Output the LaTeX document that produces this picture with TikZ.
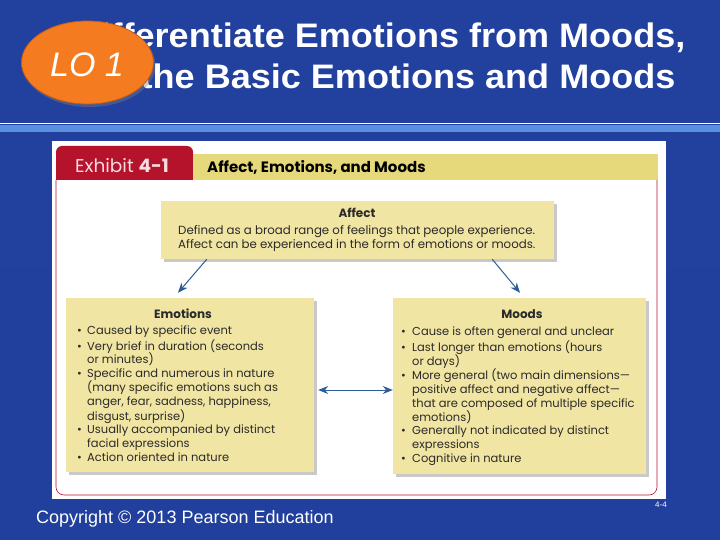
\documentclass[tikz,border=0pt]{standalone}
\usepackage{fontspec}
\setmainfont{Liberation Sans}
\newfontfamily\titlefont{Liberation Sans}[FakeStretch=1.06]
\newfontfamily\exfont{Poppins}
\usetikzlibrary{shadows,arrows.meta,shapes.geometric}
\definecolor{bgtop}{HTML}{22409E}
\definecolor{bgmid}{HTML}{2D52B2}
\definecolor{bgbot}{HTML}{213F9C}
\definecolor{sepblue}{HTML}{5B8FE0}
\definecolor{loorange}{HTML}{F47B20}
\definecolor{loedge}{HTML}{C95A12}
\definecolor{exred}{HTML}{B5122B}
\definecolor{extab}{HTML}{F7DCE0}
\definecolor{hdryellow}{HTML}{E6D97C}
\definecolor{boxyellow}{HTML}{F1E5A4}
\definecolor{arrblue}{HTML}{2D5C96}
\definecolor{extxt}{HTML}{2A2A2A}
\newcommand\bitem[1]{\makebox[10pt][l]{\textbullet}#1}
\newcommand\bcont[1]{\hspace*{10pt}#1}
\newcommand\mitem[1]{\makebox[11pt][l]{\textbullet}#1}
\newcommand\mcont[1]{\hspace*{11pt}#1}
\tikzset{
  titletext/.style={text=white, inner sep=0pt, font=\titlefont\fontsize{34}{40}\selectfont\bfseries},
  infobox/.style={fill=boxyellow, draw=none, inner sep=0pt,
    drop shadow={shadow xshift=3pt, shadow yshift=-3pt, opacity=0.35, fill=black!60}},
  bodytext/.style={text=extxt, inner sep=0pt, align=left,
    font=\exfont\fontsize{11.5}{13.8}\selectfont},
  boxtitle/.style={text=extxt, inner sep=0pt, font=\exfont\fontsize{12}{14}\selectfont\bfseries},
  arr/.style={draw=arrblue, line width=1pt, -{Stealth[length=10pt,width=8pt]}},
  darr/.style={draw=arrblue, line width=1pt, {Stealth[length=10pt,width=8pt]}-{Stealth[length=10pt,width=8pt]}}
}
\begin{document}
\begin{tikzpicture}[x=1pt,y=-1pt]
\useasboundingbox (0,0) rectangle (720,540);
% background
\shade[top color=bgtop, middle color=bgmid, bottom color=bgbot] (0,0) rectangle (720,540);
% title
\node[titletext, anchor=base] (t1) at (380,47.5) {Differentiate Emotions from Moods,};
\node[titletext, anchor=base] (t2) at (371,89) {and the Basic Emotions and Moods};
% LO badge
\node[ellipse, minimum width=132pt, minimum height=83pt, fill=loorange, draw=loedge, line width=0.8pt,
  drop shadow={shadow xshift=2pt, shadow yshift=-3pt, opacity=0.4}] (lo) at (87.5,62.5) {};
\node[text=white, inner sep=0pt, anchor=base, font=\fontsize{34}{34}\selectfont\itshape] (lotxt) at (87,77) {LO 1};
% separator
\draw[white, line width=1pt] (0,124) -- (720,124);
\fill[sepblue] (0,125) rectangle (720,132);
% exhibit
\fill[white] (52,141) rectangle (666,499);
\fill[exred] (56,180) [rounded corners=6pt] -- (56,146) -- (193,146) [sharp corners] -- (193,180) -- cycle;
\fill[hdryellow] (193,154) rectangle (658,180);
\draw[exred, line width=0.6pt, rounded corners=8pt] (56,180) -- (56,495) -- (657,495) -- (657,180);
\node[anchor=base west, inner sep=0pt, text=extab, font=\exfont\fontsize{18.5}{18}\selectfont] (exlbl) at (75,172.5) {Exhibit \textbf{4-1}};
\node[anchor=base west, inner sep=0pt, text=black, font=\exfont\fontsize{15}{16}\selectfont\bfseries] (hdr) at (207,172.5) {Affect, Emotions, and Moods};
% boxes
\node[infobox, minimum width=393pt, minimum height=58pt] (affect) at (357.5,230) {};
\node[infobox, minimum width=248pt, minimum height=174pt] (emo) at (190,385) {};
\node[infobox, minimum width=253pt, minimum height=176pt] (moods) at (519.5,386) {};
% affect text
\node[boxtitle, anchor=base] (afft) at (357,218) {Affect};
\node[bodytext, anchor=north west, font=\exfont\fontsize{11.8}{14.5}\selectfont] (affd) at (178,223.8) {\strut Defined as a broad range of feelings that people experience.\\Affect can be experienced in the form of emotions or moods.};
% emotions text
\node[boxtitle, anchor=base] (emot) at (183,318) {Emotions};
\node[bodytext, anchor=north west] (emod) at (77,324.3) {\strut\bitem{Caused by specific event}\\
\bitem{Very brief in duration (seconds}\\
\bcont{or minutes)}\\
\bitem{Specific and numerous in nature}\\
\bcont{(many specific emotions such as}\\
\bcont{anger, fear, sadness, happiness,}\\
\bcont{disgust, surprise)}\\
\bitem{Usually accompanied by distinct}\\
\bcont{facial expressions}\\
\bitem{Action oriented in nature}};
% moods text
\node[boxtitle, anchor=base] (moot) at (522,318) {Moods};
\node[bodytext, anchor=north west] (mood) at (401,325.3) {\strut\mitem{Cause is often general and unclear}\\
\mitem{Last longer than emotions (hours}\\
\mcont{or days)}\\
\mitem{More general (two main dimensions—}\\
\mcont{positive affect and negative affect—}\\
\mcont{that are composed of multiple specific}\\
\mcont{emotions)}\\
\mitem{Generally not indicated by distinct}\\
\mcont{expressions}\\
\mitem{Cognitive in nature}};
% arrows
\draw[arr] ([xshift=46pt]affect.south west) -- ([xshift=-12pt,yshift=5pt]emo.north);
\draw[arr] ([xshift=-62pt]affect.south east) -- ([xshift=0.5pt,yshift=5pt]moods.north);
\draw[darr] ([xshift=4pt,yshift=-5pt]emo.east) -- ([yshift=-4pt]moods.west);
% footer
\node[anchor=base west, inner sep=0pt, text=white, font=\fontsize{18}{18}\selectfont] (copy) at (36,523) {Copyright © 2013 Pearson Education};
\node[anchor=base, inner sep=0pt, text=white, font=\fontsize{8}{8}\selectfont] (pg) at (661,507) {4-4};
\end{tikzpicture}
\end{document}
